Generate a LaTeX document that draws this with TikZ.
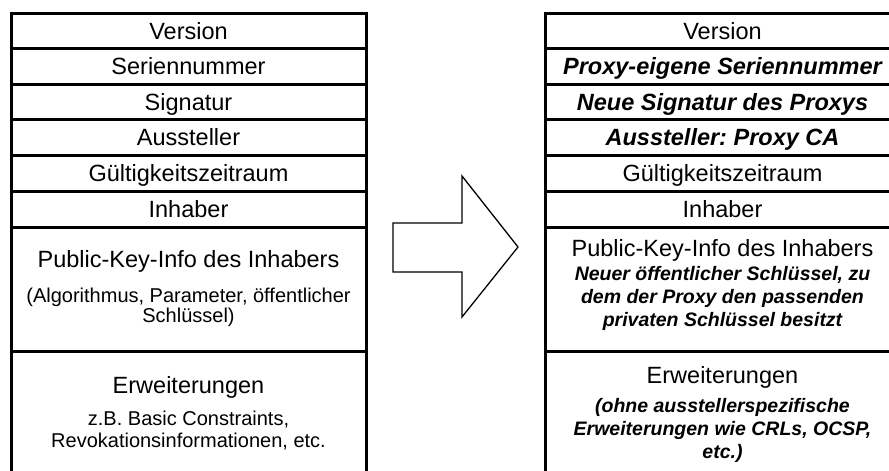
\documentclass[tikz,border=0pt]{standalone}
\usepackage{fontspec}
\setmainfont{Liberation Sans}
\frenchspacing
\newcommand\bigtxt{\fontsize{23.5}{27}\selectfont}
\newcommand\smalltxt{\fontsize{20}{23}\selectfont}
\newcommand\emtxt{\fontsize{19.5}{23}\selectfont\bfseries\itshape}
\begin{document}
\begin{tikzpicture}[x=1pt,y=-1pt,
  cell/.style={draw,line width=3pt,minimum width=355pt,inner sep=0pt,outer sep=0pt,
    anchor=north west,font=\bigtxt,text height=16.8pt,text depth=0pt},
  bold/.style={font=\bigtxt\bfseries\itshape},
  line/.style={anchor=base,inner sep=0pt},
  bigline/.style={line,font=\bigtxt},
  smallline/.style={line,font=\smalltxt},
  emline/.style={line,font=\emtxt},
  bigarrow/.style={draw,line width=1.3pt,line join=miter}]
\useasboundingbox (0,0) rectangle (889,471);
\clip (0,0) rectangle (889,471);

% original certificate
\node[cell,minimum height=35.5pt] (lver) at (11,13) {Version};
\node[cell,minimum height=35.5pt] (lser) at (11,48.5) {Seriennummer};
\node[cell,minimum height=35.5pt] (lsig) at (11,84) {Signatur};
\node[cell,minimum height=35.5pt] (liss) at (11,119.5) {Aussteller};
\node[cell,minimum height=36pt] (lval) at (11,155) {Gültigkeitszeitraum};
\node[cell,minimum height=36pt] (lsub) at (11,191) {Inhaber};
\node[cell,minimum height=124pt] (lpk) at (11,227) {};
\node[cell,minimum height=200pt] (lext) at (11,351) {};
\node[bigline] (lpkt) at (188.5,267) {Public-Key-Info des Inhabers};
\node[smallline] (lpk1) at (188.5,302) {(Algorithmus, Parameter, öffentlicher};
\node[smallline] (lpk2) at (188.5,322) {Schlüssel)};
\node[bigline] (lextt) at (188.5,393) {Erweiterungen};
\node[smallline] (lext1) at (188.5,425) {z.B. Basic Constraints,};
\node[smallline] (lext2) at (188.5,447) {Revokationsinformationen, etc.};

% proxy certificate
\node[cell,minimum height=35.5pt] (rver) at (545,13) {Version};
\node[cell,bold,minimum height=35.5pt] (rser) at (545,48.5) {Proxy-eigene Seriennummer};
\node[cell,bold,minimum height=35.5pt] (rsig) at (545,84) {Neue Signatur des Proxys};
\node[cell,bold,minimum height=35.5pt] (riss) at (545,119.5) {Aussteller: Proxy CA};
\node[cell,minimum height=36pt] (rval) at (545,155) {Gültigkeitszeitraum};
\node[cell,minimum height=36pt] (rsub) at (545,191) {Inhaber};
\node[cell,minimum height=124pt] (rpk) at (545,227) {};
\node[cell,minimum height=200pt] (rext) at (545,351) {};
\node[bigline] (rpkt) at (722.5,256) {Public-Key-Info des Inhabers};
\node[emline] (rpk1) at (722.5,280) {Neuer öffentlicher Schlüssel, zu};
\node[emline] (rpk2) at (722.5,303) {dem der Proxy den passenden};
\node[emline] (rpk3) at (722.5,326) {privaten Schlüssel besitzt};
\node[bigline] (rextt) at (722.5,383) {Erweiterungen};
\node[emline] (rext1) at (722.5,412) {(ohne ausstellerspezifische};
\node[emline] (rext2) at (722.5,435) {Erweiterungen wie CRLs, OCSP,};
\node[emline] (rext3) at (722.5,458) {etc.)};

% block arrow between the two certificates
\draw[bigarrow] (393,223) -- (462,223) -- (462,176) -- (518,247)
  -- (462,317) -- (462,272) -- (393,272) -- cycle;
\end{tikzpicture}
\end{document}
